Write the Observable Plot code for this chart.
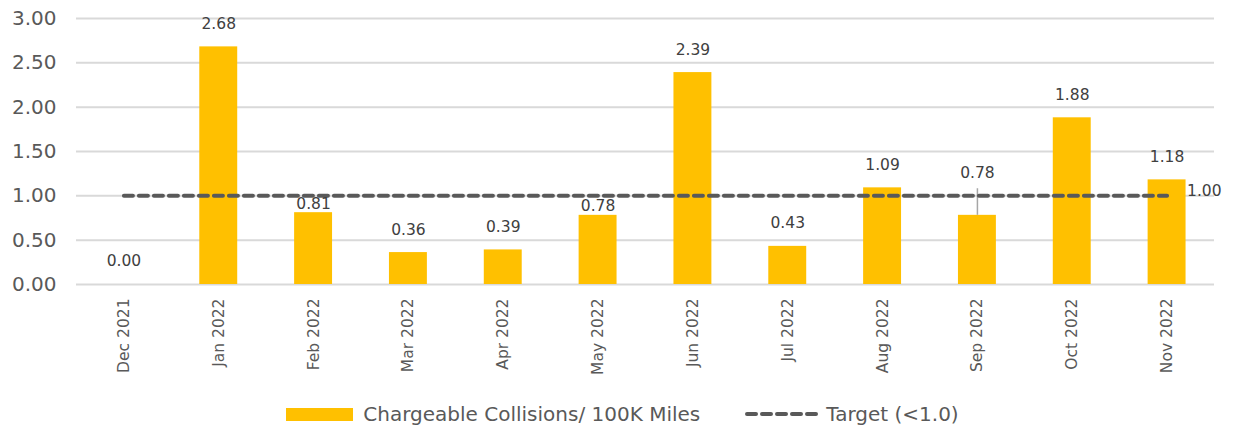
<!DOCTYPE html>
<html><head><meta charset="utf-8">
<script src="https://cdn.jsdelivr.net/npm/d3@7"></script>
<script src="https://cdn.jsdelivr.net/npm/@observablehq/plot@0.6"></script>
<style>
body{margin:0;background:#fff;font-family:"DejaVu Sans",sans-serif;}
#chart svg{display:block}
#legend{display:flex;align-items:center;justify-content:center;height:30px;margin-top:17px;color:#595959;font-size:20px;padding-left:0}
.sw{display:inline-block;width:67px;height:13px;background:#FFC000;margin-right:10px}
.item{display:flex;align-items:center}
</style></head><body>
<div id="chart"></div>
<div id="legend">
  <div class="item"><span class="sw"></span><span>Chargeable Collisions/ 100K Miles</span></div>
  <div class="item" style="margin-left:44px"><svg width="80" height="14"><line x1="3" x2="76" y1="7" y2="7" stroke="#595959" stroke-width="4" stroke-dasharray="9,6" stroke-linecap="round"/></svg><span style="margin-left:2px">Target (&lt;1.0)</span></div>
</div>
<script>
const months = ["Dec 2021","Jan 2022","Feb 2022","Mar 2022","Apr 2022","May 2022","Jun 2022","Jul 2022","Aug 2022","Sep 2022","Oct 2022","Nov 2022"];
const collisions = [0.00,2.68,0.81,0.36,0.39,0.78,2.39,0.43,1.09,0.78,1.88,1.18];
const target = [1,1,1,1,1,1,1,1,1,1,1,1];
const yTicks = [0,0.5,1,1.5,2,2.5,3];

const data = months.map((m,i)=>({month:m, value:collisions[i], target:target[i]}));
const fmt = d3.format(".2f");
const leader = "Sep 2022";
const nearLine = new Set(["Feb 2022","May 2022"]);

const plot = Plot.plot({
  width:1245, height:382,
  marginTop:18, marginBottom:98, marginLeft:76, marginRight:31,
  style:{fontFamily:"DejaVu Sans, sans-serif", color:"#595959", background:"#fff"},
  x:{domain:months, paddingInner:0.6, paddingOuter:0.3, round:false, label:null},
  y:{domain:[0,3], label:null},
  marks:[
    Plot.gridY(yTicks,{stroke:"#d9d9d9", strokeOpacity:1, strokeWidth:2}),
    Plot.axisY(yTicks,{tickSize:0, tickPadding:20, tickFormat:fmt, fontSize:20, fill:"#595959"}),
    Plot.axisX({tickSize:0, tickRotate:-90, tickPadding:14, fontSize:15.5, fill:"#595959"}),
    Plot.barY(data,{x:"month", y:"value", fill:"#FFC000"}),
    Plot.ruleX(data.filter(d=>d.month===leader),{x:"month", y1:"value", y2:d=>d.target+0.08, stroke:"#a6a6a6", strokeWidth:1.5}),
    Plot.lineY(data,{x:"month", y:"target", stroke:"#595959", strokeWidth:4, strokeDasharray:"9,6", strokeLinecap:"round"}),
    Plot.text(data.filter(d=>d.month!==leader && !nearLine.has(d.month)),{x:"month", y:"value", text:d=>fmt(d.value), dy:-23, fontSize:15.5, fill:"#404040"}),
    Plot.text(data.filter(d=>nearLine.has(d.month)),{x:"month", y:"value", text:d=>fmt(d.value), dy:-9, fontSize:15.5, fill:"#404040"}),
    Plot.text(data.filter(d=>d.month===leader),{x:"month", y:d=>d.target+0.08, text:d=>fmt(d.value), dy:-16, fontSize:15.5, fill:"#404040"}),
    Plot.text(data.slice(-1),{x:"month", y:"target", text:d=>fmt(d.target), dx:20, dy:-5, textAnchor:"start", fontSize:15.5, fill:"#404040"})
  ]
});
document.getElementById("chart").append(plot);
</script>
</body></html>
